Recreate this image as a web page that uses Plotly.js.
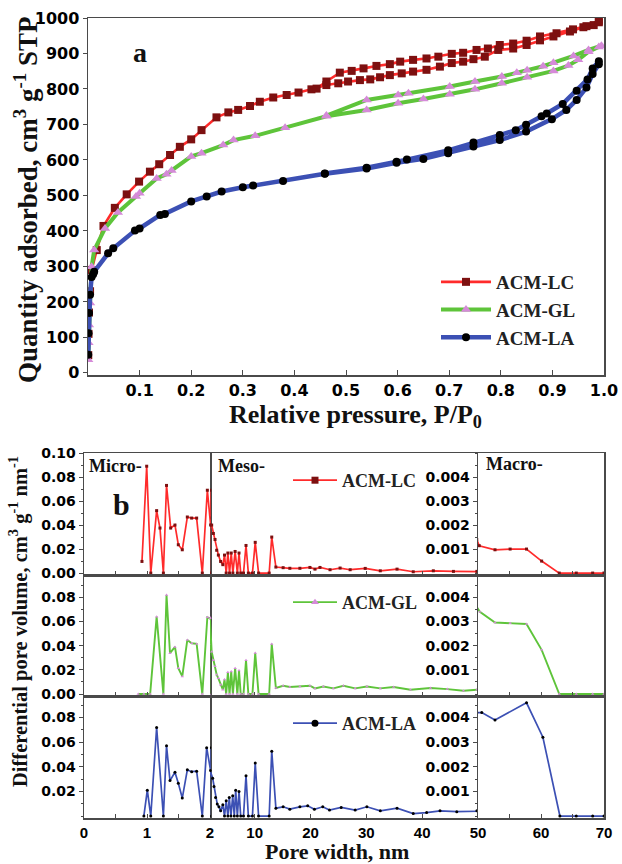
<!DOCTYPE html>
<html><head><meta charset="utf-8">
<script src="https://cdn.plot.ly/plotly-3.0.1.min.js"></script>
<style>html,body{margin:0;padding:0;background:#fff}#chart{width:622px;height:864px}</style>
</head><body><div id="chart"></div>
<script>
// ---------- Panel a: N2 isotherms (P/P0, cm3/g STP) ----------
const LC_ads_p = [0.0005,0.001,0.002,0.004,0.007,0.017,0.03,0.052,0.075,0.099,0.12,0.138,0.159,0.178,0.2,0.22,0.249,0.272,0.291,0.314,0.333,0.359,0.385,0.408,0.433,0.462,0.485,0.504,0.527,0.547,0.566,0.585,0.608,0.63,0.656,0.682,0.705,0.727,0.747,0.769,0.795,0.824,0.85,0.876,0.902,0.934,0.96,0.98,0.99];
const LC_ads_q = [50,110,170,230,290,346,414,465,503,539,567,588,614,637,658,684,720,734,741,752,764,776,783,790,799,811,816,821,825,827,833,839,844,849,854,863,873,877,884,891,910,914,924,937,948,962,974,980,988];
const LC_des_p = [0.99,0.966,0.94,0.908,0.876,0.85,0.824,0.798,0.775,0.753,0.727,0.705,0.679,0.656,0.63,0.605,0.585,0.559,0.534,0.511,0.488,0.462,0.443];
const LC_des_q = [992,977,968,957,948,936,928,924,914,910,902,899,891,886,882,877,870,865,858,851,846,821,801];

const GL_ads_p = [0.0005,0.001,0.002,0.004,0.007,0.012,0.033,0.058,0.093,0.1,0.133,0.152,0.162,0.2,0.22,0.262,0.282,0.324,0.382,0.462,0.54,0.601,0.65,0.701,0.75,0.802,0.851,0.902,0.931,0.95,0.97,0.99];
const GL_ads_q = [37,85,135,197,299,346,407,452,497,506,548,560,570,610,619,642,656,668,691,723,741,760,772,785,799,816,833,851,866,882,905,918];
const GL_des_p = [0.995,0.97,0.941,0.902,0.882,0.851,0.831,0.802,0.75,0.701,0.621,0.601,0.54,0.462];
const GL_des_q = [922,910,893,874,864,853,846,835,821,807,788,783,769,725];

const LA_ads_p = [0.0005,0.001,0.002,0.004,0.007,0.01,0.012,0.039,0.049,0.091,0.1,0.14,0.149,0.2,0.23,0.259,0.3,0.32,0.378,0.459,0.54,0.598,0.65,0.698,0.747,0.798,0.849,0.899,0.927,0.947,0.966,0.978,0.99];
const LA_ads_q = [51,112,169,220,270,278,285,337,351,401,407,445,448,483,497,511,523,528,541,561,576,592,603,619,638,656,680,715,741,769,804,842,870];
const LA_des_p = [0.99,0.978,0.968,0.947,0.92,0.889,0.879,0.849,0.829,0.798,0.747,0.698,0.618,0.598,0.54,0.459];
const LA_des_q = [878,858,827,795,758,731,723,699,684,670,649,627,601,595,578,562];

// ---------- Panel b: pore size distributions (nm, cm3 g-1 nm-1) ----------
const LC_w = [0.92,0.995,1.06,1.153,1.206,1.26,1.31,1.376,1.444,1.497,1.56,1.64,1.709,1.788,1.878,1.958,2.01,2.3,2.6,2.9,3.2,3.5,3.9,4.3,4.6,4.9,5.2,5.5,5.8,6.1,6.5,6.9,7.2,7.5,8.0,8.45,8.87,9.6,10.1,10.7,12.6,13.06,13.8,15.1,16.3,18.1,19.9,20.8,21.7,23.5,25.3,27.1,29.8,32.5,35.5,38.4,42,45.6,49.8,50.2,52.7,55.1,57.7,60.1,62.9,65.6,68.2,70];
const LC_v = [0.0097,0.089,0,0.052,0.0375,0,0.073,0.0375,0.040,0.0236,0.0194,0.0467,0.0458,0.0458,0,0.069,0.040,0.040,0.033,0.028,0.019,0.015,0.0097,0.007,0.015,0,0.0167,0,0.0167,0,0.018,0,0.0167,0,0,0.023,0,0,0.0256,0,0,0.030,0.005,0.0045,0.0040,0.0040,0.0047,0.0033,0.0047,0.0028,0.0042,0.0028,0.0039,0.0019,0.0033,0.0011,0.0019,0.0014,0.0014,0.00114,0.00097,0.0010,0.0010,0.0005,0,0,0,0];

const GL_w = [0.86,0.95,1.05,1.153,1.26,1.31,1.365,1.444,1.497,1.56,1.64,1.709,1.788,1.878,1.958,2.0,2.3,2.6,2.9,3.2,3.5,3.9,4.3,4.6,4.9,5.2,5.5,5.8,6.1,6.5,6.9,7.2,7.5,8.0,8.45,8.87,9.6,10.1,10.7,12.6,13.06,13.8,15.1,16.3,18.1,19.9,20.8,22.3,24.1,25.9,28,30.1,32.5,34.9,37.9,41.5,44.5,47.4,49.8,50.3,52.7,55.1,57.7,60.1,62.9,65.6,68.2,70];
const GL_v = [0,0,0,0.064,0,0.082,0.0338,0.039,0.0214,0.0146,0.0448,0.042,0.0415,0,0.0635,0.0627,0.035,0.028,0.023,0.016,0.013,0.0077,0.0036,0.012,0,0.018,0,0.0187,0,0.0214,0,0.0195,0,0,0.028,0,0,0.034,0,0,0.0415,0.005,0.0069,0.0058,0.0062,0.0069,0.0047,0.0063,0.0047,0.0069,0.0047,0.0063,0.0047,0.0058,0.0036,0.0050,0.0041,0.0027,0.0036,0.0034,0.00296,0.00293,0.0029,0.00183,0,0,0,0];

const LA_w = [0.95,1.005,1.06,1.153,1.26,1.31,1.365,1.444,1.497,1.56,1.64,1.709,1.788,1.878,1.947,2.01,2.48,2.72,3.0,3.3,3.6,3.9,4.3,4.6,4.9,5.2,5.45,5.75,6.07,6.35,6.6,6.9,7.2,7.5,8.0,8.45,8.87,9.6,10.1,10.7,12.6,13.06,13.8,15.1,16.3,18.1,19.5,20.7,22.2,23.4,25.5,28,30.1,32.5,35.5,38.4,40.8,43.2,46.2,49.8,50.6,52.7,57.7,60.3,63,65.6,68.2,70];
const LA_v = [0,0.021,0,0.0719,0,0.057,0.0288,0.0356,0.0266,0.0146,0.0375,0.036,0.0364,0,0.0555,0.037,0.0307,0.0239,0.0151,0.0097,0.0075,0.0042,0.0091,0,0.0124,0,0.0151,0,0.0165,0,0.021,0,0.020,0,0,0.0328,0,0,0.043,0,0,0.0527,0.0064,0.0075,0.0056,0.0075,0.0083,0.0055,0.0075,0.0048,0.0070,0.0048,0.0075,0.0042,0.0064,0.0020,0.0028,0.0042,0.0035,0.0042,0.0042,0.0039,0.0046,0.0032,0,0,0,0];

const sampleNames = ['ACM-LC','ACM-GL','ACM-LA'];
const leftTicks = [[0,0.02,0.04,0.06,0.08,0.10],[0,0.02,0.04,0.06,0.08],[0.02,0.04,0.06,0.08]];
const rightTicks = [0.001,0.002,0.003,0.004];
const segRanges = [[0,2],[2,50],[50,70]];
const segTickVals = [[0,0.5,1,1.5,2],[10,20,30,40,50],[55,60,65,70]];
const segTickText = [['0','','1','','2'],['10','20','30','40','50'],['','60','','70']];

// ---------- styling ----------
const W = 622, H = 864;
const px = v => v / W, py = v => 1 - v / H;
const SERIF = 'Liberation Serif, Times New Roman, serif';
const SANS = 'DejaVu Sans, Arial, sans-serif';
const SANS2 = 'Liberation Sans, Arial, sans-serif';
const FRAME = '#4a4a4a';
const styles = [
  {line:'#ff2b2b', mk:'#7d1010', sym:'square', lw:2.6, ms:8, lwB:1.7, mkB:'#7d1010', symB:'square'},
  {line:'#5ec43a', mk:'#d58ad8', sym:'triangle-up', lw:4, ms:9, lwB:1.9, mkB:'#d58ad8', symB:'triangle-up'},
  {line:'#3c50b4', mk:'#000000', sym:'circle', lw:4.5, ms:8, lwB:1.7, mkB:'#000000', symB:'circle'}
];

const traces = [];
const isoP = [[LC_ads_p, LC_des_p],[GL_ads_p, GL_des_p],[LA_ads_p, LA_des_p]];
const isoQ = [[LC_ads_q, LC_des_q],[GL_ads_q, GL_des_q],[LA_ads_q, LA_des_q]];
for (let i = 0; i < 3; i++) {
  const s = styles[i];
  traces.push({
    type:'scatter', mode:'lines+markers', name: sampleNames[i],
    x: isoP[i][0].concat(isoP[i][1]), y: isoQ[i][0].concat(isoQ[i][1]),
    xaxis:'x', yaxis:'y', legend:'legend',
    line:{color:s.line, width:s.lw},
    marker:{symbol:s.sym, size:s.ms, color:s.mk}
  });
}

const psdW = [LC_w, GL_w, LA_w];
const psdV = [LC_v, GL_v, LA_v];
const layout = {
  width: W, height: H, margin:{l:0,r:0,t:0,b:0},
  paper_bgcolor:'#fff', plot_bgcolor:'rgba(0,0,0,0)',
  showlegend: true,
  font:{family:SANS, color:'#000'},
  xaxis:{domain:[px(88), px(604)], range:[0,1], anchor:'y',
    tickvals:[0.1,0.2,0.3,0.4,0.5,0.6,0.7,0.8,0.9,1.0],
    ticktext:['0.1','0.2','0.3','0.4','0.5','0.6','0.7','0.8','0.9','1.0'],
    ticks:'inside', ticklen:5, tickcolor:FRAME, showline:true, mirror:true, linecolor:FRAME, linewidth:1.5,
    showgrid:false, zeroline:false, tickfont:{family:SANS, size:16, weight:'bold', color:'#000'}},
  yaxis:{domain:[py(375), py(18)], range:[-6,1000], anchor:'x', dtick:100, tick0:0,
    ticks:'outside', ticklen:4, tickcolor:FRAME, showline:true, mirror:true, linecolor:FRAME, linewidth:1.5,
    showgrid:false, zeroline:false, tickfont:{family:SANS, size:16, weight:'bold', color:'#000'}},
  legend:{x:px(436), y:py(263), xanchor:'left', yanchor:'top', bgcolor:'rgba(0,0,0,0)',
    itemwidth:50, tracegroupgap:0, font:{family:SERIF, size:19, weight:'bold', color:'#222'}},
  annotations:[]
};

const rowTop = [453, 575, 696], rowBot = [575, 696, 818], rowMax = [0.1, 0.0985, 0.0975];
const segPx = [[84,210],[210,478],[478,604]];
for (let r = 0; r < 3; r++) {
  const yl = 2 + 2*r, yr = 3 + 2*r;
  const yLo = -0.0016;
  for (let s = 0; s < 3; s++) {
    const xi = 2 + 3*r + s;
    layout['xaxis'+xi] = {
      domain:[px(segPx[s][0]), px(segPx[s][1])], range:segRanges[s],
      anchor: s < 2 ? 'y'+yl : 'y'+yr,
      tickvals: segTickVals[s], ticktext: segTickText[s], showticklabels: r === 2,
      ticks:'inside', ticklen:4, tickcolor:FRAME, showline:true, mirror:true, linecolor:FRAME, linewidth:1.5,
      showgrid:false, zeroline:false, tickfont:{family:SANS2, size:15, weight:'bold', color:'#000'}
    };
    const st = styles[r];
    traces.push({
      type:'scatter', mode:'lines+markers', showlegend:false,
      x: psdW[r], y: psdV[r], xaxis:'x'+xi, yaxis:'y'+(s < 2 ? yl : yr),
      line:{color:st.line, width:st.lwB},
      marker:{symbol:st.symB, size:3, color:st.mkB}
    });
  }
  layout['yaxis'+yl] = {domain:[py(rowBot[r]), py(rowTop[r])], range:[yLo, rowMax[r]], anchor:'x'+(2+3*r),
    tickvals:leftTicks[r], ticktext:leftTicks[r].map(v => v.toFixed(2)),
    ticks:'outside', ticklen:4, tickcolor:FRAME, showline:true, mirror:true, linecolor:FRAME, linewidth:1.5,
    minor:{dtick:0.01, ticks:'outside', ticklen:2, tickcolor:FRAME},
    showgrid:false, zeroline:false, tickfont:{family:SANS, size:14, weight:'bold', color:'#000'}};
  layout['yaxis'+yr] = {domain:[py(rowBot[r]), py(rowTop[r])], range:[yLo/20, rowMax[r]/20], anchor:'x'+(4+3*r), side:'left',
    tickvals:rightTicks, ticktext:rightTicks.map(v => v.toFixed(3)),
    ticks:'outside', ticklen:4, tickcolor:FRAME, showline:true, mirror:true, linecolor:FRAME, linewidth:1.5,
    minor:{dtick:0.0005, ticks:'outside', ticklen:2, tickcolor:FRAME},
    showgrid:false, zeroline:false, tickfont:{family:SANS, size:14, weight:'bold', color:'#000'}};
  // legend entry for this row
  const lg = 'legend' + (r + 2);
  traces.push({
    type:'scatter', mode:'lines+markers', name: sampleNames[r], x:[null], y:[null],
    xaxis:'x'+(2+3*r), yaxis:'y'+yl, legend: lg, showlegend:true,
    line:{color:styles[r].line, width:1.8},
    marker:{symbol:styles[r].symB, size:7, color:styles[r].mkB}
  });
  layout[lg] = {x:px(288), y:py(rowTop[r] + 9), xanchor:'left', yanchor:'top', bgcolor:'rgba(0,0,0,0)',
    itemwidth:44, font:{family:SERIF, size:18, weight:'bold', color:'#222'}};
}

const ann = (text, x, y, size, extra) => Object.assign({text, x:px(x), y:py(y), xref:'paper', yref:'paper',
  xanchor:'center', yanchor:'middle', showarrow:false, borderpad:0,
  font:{family:SERIF, size, weight:'bold', color:'#111'}}, extra || {});
layout.annotations.push(
  ann('Quantity adsorbed, cm<sup>3</sup> g<sup>-1</sup> STP', 26, 200, 27, {textangle:-90}),
  ann('Relative pressure, P/P<sub>0</sub>', 355, 416, 26),
  ann('a', 140, 52, 28),
  ann('b', 121, 504, 30),
  ann('Micro-', 88, 466, 18, {xanchor:'left'}),
  ann('Meso-', 217, 466, 18, {xanchor:'left'}),
  ann('Macro-', 485, 464, 18, {xanchor:'left'}),
  ann('Differential pore volume, cm<sup>3</sup> g<sup>-1</sup> nm<sup>-1</sup>', 18, 622, 20.5, {textangle:-90}),
  ann('Pore width, nm', 337, 851, 22)
);

Plotly.newPlot('chart', traces, layout, {displayModeBar:false, staticPlot:true});
</script></body></html>
